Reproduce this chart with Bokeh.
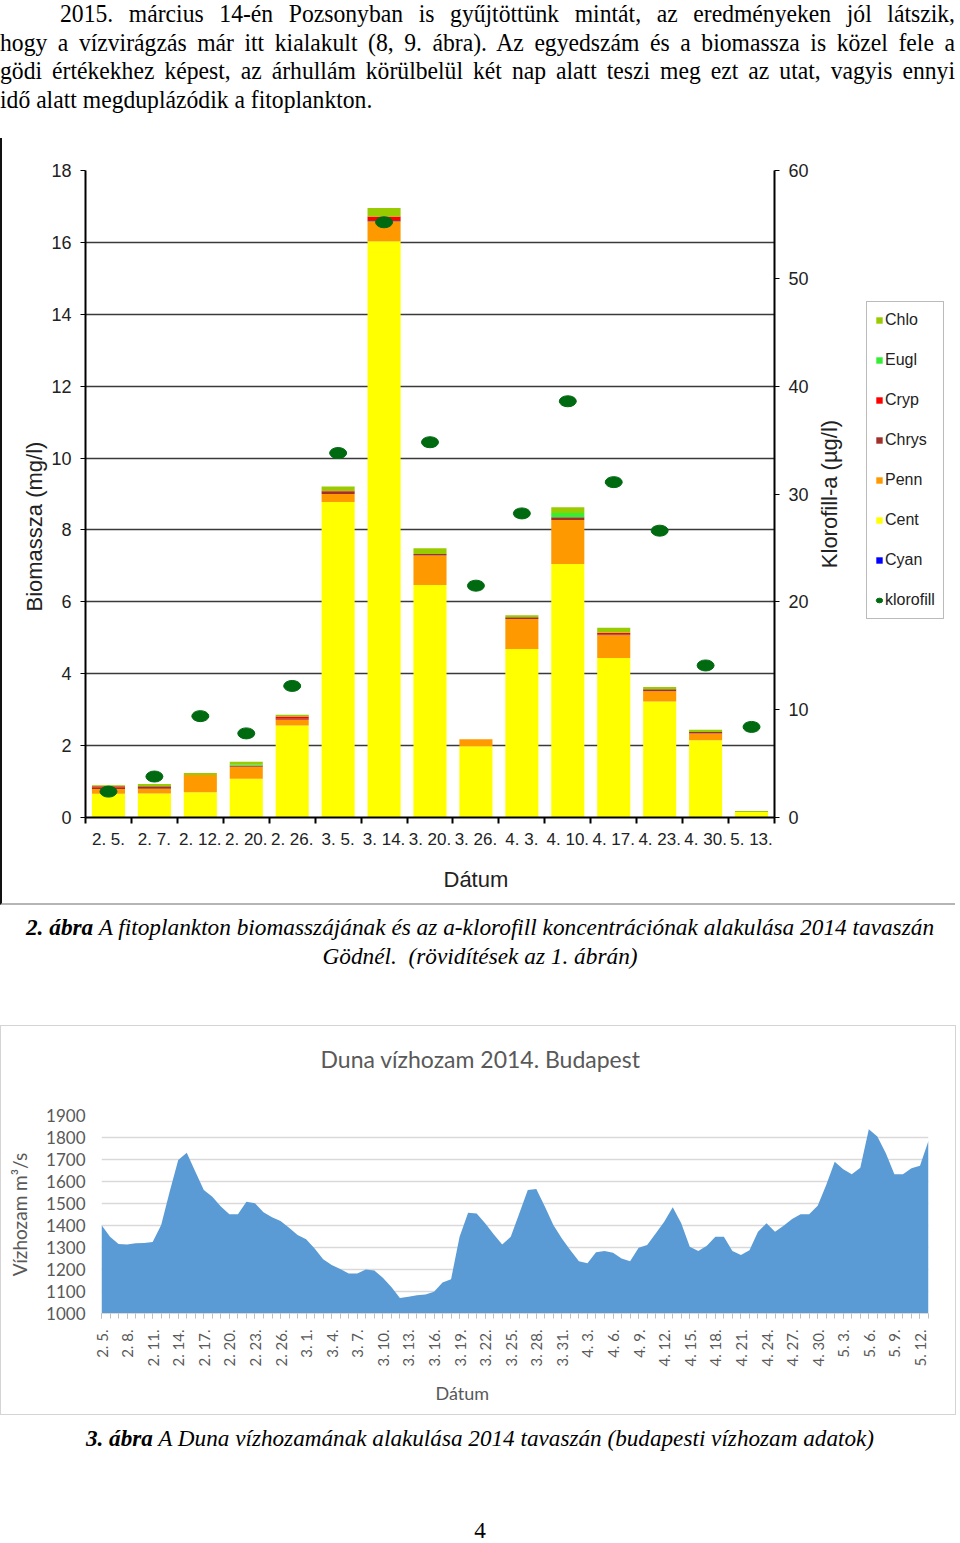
import math
from bokeh.plotting import figure
from bokeh.models import (Range1d, LinearAxis, FixedTicker, Legend, LegendItem, Div,
                          Title, ColumnDataSource)
from bokeh.layouts import row
from bokeh.embed import file_html
from bokeh.resources import INLINE

# ---------------- data: figure 2 (biomass + chlorophyll) ----------------
sample_dates = ["2. 5.", "2. 7.", "2. 12.", "2. 20.", "2. 26.", "3. 5.", "3. 14.", "3. 20.",
                "3. 26.", "4. 3.", "4. 10.", "4. 17.", "4. 23.", "4. 30.", "5. 13."]
cyan = [0.0] * 15
cent = [0.66, 0.67, 0.70, 1.08, 2.56, 8.78, 16.03, 6.47, 1.98, 4.69, 7.05, 4.44, 3.23, 2.15, 0.15]
penn = [0.13, 0.13, 0.48, 0.33, 0.16, 0.22, 0.55, 0.82, 0.20, 0.83, 1.23, 0.63, 0.28, 0.19, 0.00]
chrys = [0.05, 0.07, 0.00, 0.03, 0.03, 0.07, 0.04, 0.04, 0.00, 0.05, 0.07, 0.03, 0.06, 0.04, 0.00]
cryp = [0.03, 0.00, 0.00, 0.01, 0.06, 0.01, 0.10, 0.00, 0.00, 0.00, 0.00, 0.04, 0.00, 0.00, 0.00]
eugl = [0.00, 0.00, 0.00, 0.03, 0.00, 0.00, 0.00, 0.00, 0.00, 0.00, 0.12, 0.00, 0.00, 0.00, 0.00]
chlo = [0.03, 0.06, 0.06, 0.07, 0.05, 0.13, 0.24, 0.16, 0.00, 0.06, 0.16, 0.14, 0.06, 0.06, 0.03]
klorofill = [2.4, 3.8, 9.4, 7.8, 12.2, 33.8, 55.2, 34.8, 21.5, 28.2, 38.6, 31.1, 26.6, 14.1, 8.4]

# ---------------- data: figure 3 (Danube discharge, daily from 2. 5.) ----------------
flow = [1402, 1349, 1316, 1314, 1319, 1320, 1325, 1402, 1554, 1698, 1731, 1645, 1561, 1531,
        1486, 1451, 1451, 1508, 1501, 1460, 1437, 1420, 1390, 1357, 1338, 1296, 1247, 1220,
        1202, 1182, 1182, 1200, 1196, 1163, 1121, 1071, 1076, 1083, 1086, 1099, 1141, 1156,
        1349, 1458, 1455, 1410, 1360, 1314, 1349, 1455, 1561, 1566, 1486, 1402, 1341, 1288,
        1238, 1228, 1278, 1284, 1276, 1250, 1238, 1299, 1311, 1364, 1417, 1483, 1410, 1303,
        1284, 1308, 1349, 1349, 1284, 1266, 1288, 1372, 1410, 1372, 1399, 1429, 1451, 1451,
        1490, 1584, 1690, 1656, 1633, 1663, 1838, 1804, 1728, 1633, 1633, 1660, 1672, 1785]
month_days = {2: 28, 3: 31, 4: 30, 5: 31}

SERIF = "'Liberation Serif', 'Times New Roman', serif"
SANS = "Liberation Sans"

# ---------------- top paragraph ----------------
para_lines = [
    "2015. március 14-én Pozsonyban is gyűjtöttünk mintát, az eredményeken jól látszik,",
    "hogy a vízvirágzás már itt kialakult (8, 9. ábra). Az egyedszám és a biomassza is közel fele a",
    "gödi értékekhez képest, az árhullám körülbelül két nap alatt teszi meg ezt az utat, vagyis ennyi",
    "idő alatt megduplázódik a fitoplankton.",
]
just = "text-align:justify;text-align-last:justify;white-space:nowrap;"
para_html = (
    f'<div style="width:956px;height:138px;overflow:hidden;">'
    f'<div style="width:1050px;transform:scaleX(0.9095);transform-origin:0 0;font-family:{SERIF};'
    f'font-size:26px;line-height:28.6px;color:#000;margin-top:0px;">'
    f'<div style="{just}padding-left:66px">{para_lines[0]}</div>'
    f'<div style="{just}">{para_lines[1]}</div>'
    f'<div style="{just}">{para_lines[2]}</div>'
    f'<div style="white-space:nowrap">{para_lines[3]}</div>'
    f'</div></div>'
)
para = Div(text=para_html, width=956, height=138, margin=0)

# ---------------- figure 2: stacked bars ----------------
species = ["Cyan", "Cent", "Penn", "Chrys", "Cryp", "Eugl", "Chlo"]
sp_colors = ["#0000FF", "#FFFF00", "#FF9900", "#A0302A", "#FF0000", "#33EE33", "#99CC00"]
KCOL = "#006A10"
x_idx = list(range(len(sample_dates)))
src = ColumnDataSource(dict(x=x_idx, Cyan=cyan, Cent=cent, Penn=penn, Chrys=chrys, Cryp=cryp,
                            Eugl=eugl, Chlo=chlo, klorofill=klorofill))

p1 = figure(width=809, height=767, x_range=Range1d(-0.5, 14.5), y_range=Range1d(0, 18),
            title=None, output_backend="svg", toolbar_location=None,
            min_border_left=83, min_border_right=36, min_border_top=32, min_border_bottom=87,
            background_fill_color="white", border_fill_color="white")
p1.outline_line_color = None
p1.styles = {"border-left": "2px solid #111", "border-bottom": "2px solid #b5b5b5"}
p1.extra_y_ranges = {"chl": Range1d(0, 60)}

bars = p1.vbar_stack(species, x="x", width=0.72, source=src, color=sp_colors, line_color=None)
dots = p1.ellipse(x="x", y="klorofill", width=17, height=11, width_units="screen",
                  height_units="screen", color=KCOL, y_range_name="chl", source=src)

p1.xgrid.visible = False
p1.ygrid.ticker = FixedTicker(ticks=list(range(0, 19, 2)))
p1.ygrid.grid_line_color = "#3a3a3a"
p1.ygrid.grid_line_width = 1.3

ax = p1.xaxis[0]
ax.ticker = FixedTicker(ticks=x_idx, minor_ticks=[i - 0.5 for i in range(len(sample_dates) + 1)])
ax.major_label_overrides = {i: d for i, d in enumerate(sample_dates)}
ax.major_tick_line_color = None
ax.major_tick_out = 0
ax.major_tick_in = 0
ax.minor_tick_line_color = "#000"
ax.minor_tick_line_width = 2
ax.minor_tick_in = 0
ax.minor_tick_out = 6
ax.axis_line_color = "#000"
ax.axis_line_width = 2
ax.major_label_text_font = SANS
ax.major_label_text_font_size = "17px"
ax.major_label_text_color = "#222"
ax.major_label_standoff = 6

ay = p1.yaxis[0]
ay.ticker = FixedTicker(ticks=list(range(0, 19, 2)))
ay.axis_line_color = "#000"
ay.axis_line_width = 2
ay.major_tick_in = 0
ay.major_tick_out = 5
ay.major_tick_line_color = "#000"
ay.minor_tick_line_color = None
ay.major_label_text_font = SANS
ay.major_label_text_font_size = "18px"
ay.major_label_text_color = "#222"
ay.major_label_standoff = 9

ar = LinearAxis(y_range_name="chl", ticker=FixedTicker(ticks=list(range(0, 61, 10))))
ar.axis_line_color = "#000"
ar.axis_line_width = 2
ar.major_tick_in = 0
ar.major_tick_out = 5
ar.minor_tick_line_color = None
ar.major_label_text_font = SANS
ar.major_label_text_font_size = "18px"
ar.major_label_text_color = "#222"
ar.major_label_standoff = 9
p1.add_layout(ar, "right")

t_left = Title(text="Biomassza (mg/l)", align="left", offset=206, text_font=SANS,
               text_font_size="22px", text_font_style="normal", text_color="#222", standoff=4)
p1.add_layout(t_left, "left")
t_below = Title(text="Dátum", align="left", offset=358, text_font=SANS,
                text_font_size="22px", text_font_style="normal", text_color="#222", standoff=27)
p1.add_layout(t_below, "below")

# right-hand strip: right axis title + legend
legfig = figure(width=146, height=767, x_range=Range1d(0, 1), y_range=Range1d(0, 1), title=None,
                x_axis_type=None, y_axis_type=None, output_backend="svg", toolbar_location=None,
                min_border_left=33, min_border_right=0, min_border_top=32, min_border_bottom=87,
                background_fill_color="white", border_fill_color="white")
legfig.outline_line_color = None
legfig.styles = {"border-bottom": "2px solid #b5b5b5"}
key_r = {}
for s, c in zip(species, sp_colors):
    key_r[s] = legfig.vbar(x="x", top=s, width=0.5, source=src, color=c, line_color=None,
                           visible=False)
# key glyph for the chlorophyll points: its values (>1) lie outside this strip's 0..1 range
key_k = legfig.ellipse(x="x", y="klorofill", width=11, height=8, width_units="screen",
                       height_units="screen", color=KCOL, source=src)
order = ["Chlo", "Eugl", "Cryp", "Chrys", "Penn", "Cent", "Cyan"]
items = [LegendItem(label=s, renderers=[key_r[s]]) for s in order]
items.append(LegendItem(label="klorofill", renderers=[key_k]))
legend = Legend(items=items, location=(24, 198), padding=8, spacing=20, label_height=20,
                glyph_height=8, glyph_width=8, label_standoff=2, margin=0,
                label_text_font=SANS, label_text_font_size="16px", label_text_color="#222",
                border_line_color="#777", border_line_width=1, background_fill_color="white")
legfig.add_layout(legend)
t_right = Title(text="Klorofill-a (µg/l)", align="center", text_font=SANS,
                text_font_size="22px", text_font_style="normal", text_color="#222", standoff=2)
legfig.add_layout(t_right, "left")

fig1_row = row(p1, legfig, spacing=0)

# ---------------- caption 1 ----------------
cap1 = Div(text=(
    f'<div style="width:960px;text-align:center;font-family:{SERIF};font-style:italic;'
    f'font-size:23.3px;line-height:29px;padding-top:8px;color:#000;">'
    f'<b>2. ábra</b> A fitoplankton biomasszájának és az a-klorofill koncentrációnak alakulása 2014 tavaszán'
    f'<br>Gödnél.&nbsp; (rövidítések az 1. ábrán)</div>'), width=960, height=120, margin=0)

# ---------------- figure 3: discharge area ----------------
flow_labels = []
m, d = 2, 5
for _ in flow:
    flow_labels.append(f"{m}. {d}.")
    d += 1
    if d > month_days[m]:
        m, d = m + 1, 1
days = list(range(len(flow)))

GRAY = "#595959"
p2 = figure(width=956, height=390, x_range=Range1d(0, len(flow) - 1), y_range=Range1d(1000, 1900),
            title=None, output_backend="svg", toolbar_location=None,
            min_border_left=100, min_border_right=29, min_border_top=89, min_border_bottom=103,
            background_fill_color="white", border_fill_color="white")
p2.outline_line_color = None
p2.styles = {"border": "1px solid #d4d4d4"}
p2.varea(x=days, y1=[1000] * len(flow), y2=flow, color="#5B9BD5")

spacer = Title(text=".", text_font_size="2px", text_color="white", standoff=40)
p2.add_layout(spacer, "above")
main_title = Title(text="Duna vízhozam 2014. Budapest", align="left", offset=219,
                   text_font="Lato", text_font_size="23px", text_font_style="normal",
                   text_color=GRAY, standoff=0)
p2.add_layout(main_title, "above")

p2.xgrid.visible = False
p2.ygrid.ticker = FixedTicker(ticks=list(range(1000, 1901, 100)))
p2.ygrid.grid_line_color = "#d9d9d9"
p2.ygrid.grid_line_width = 1.3

bx = p2.xaxis[0]
bx.ticker = FixedTicker(ticks=days[::3], minor_ticks=days)
bx.major_label_overrides = {i: flow_labels[i] for i in days[::3]}
bx.major_label_orientation = math.pi / 2
bx.major_label_text_font = "Lato"
bx.major_label_text_font_size = "15px"
bx.major_label_text_color = GRAY
bx.major_label_standoff = 11
bx.axis_line_color = "#d9d9d9"
bx.major_tick_line_color = "#bfbfbf"
bx.minor_tick_line_color = "#bfbfbf"
bx.major_tick_in = 0
bx.major_tick_out = 5
bx.minor_tick_in = 0
bx.minor_tick_out = 5

by = p2.yaxis[0]
by.ticker = FixedTicker(ticks=list(range(1000, 1901, 100)))
by.axis_line_color = None
by.major_tick_line_color = None
by.major_tick_out = 0
by.major_tick_in = 0
by.minor_tick_line_color = None
by.minor_tick_out = 0
by.major_label_text_font = "Lato"
by.major_label_text_font_size = "17px"
by.major_label_text_color = GRAY
by.major_label_standoff = 16
by.axis_label = "Vízhozam m³/s"
by.axis_label_text_font = "Lato"
by.axis_label_text_font_size = "19px"
by.axis_label_text_font_style = "normal"
by.axis_label_text_color = GRAY
by.axis_label_standoff = 12

t2_below = Title(text="Dátum", align="left", offset=334, text_font="Lato",
                 text_font_size="18px", text_font_style="normal", text_color=GRAY, standoff=20)
p2.add_layout(t2_below, "below")

# ---------------- caption 2 and page number ----------------
cap2 = Div(text=(
    f'<div style="width:960px;text-align:center;font-family:{SERIF};font-size:23.2px;'
    f'line-height:29px;padding-top:9px;color:#000;">'
    f'<i><b>3. ábra</b> A Duna vízhozamának alakulása 2014 tavaszán (budapesti vízhozam adatok)</i>'
    f'<div style="margin-top:63px;">4</div></div>'), width=960, height=124, margin=0)

open("out.html", "w").write(file_html([para, fig1_row, cap1, p2, cap2], INLINE))
